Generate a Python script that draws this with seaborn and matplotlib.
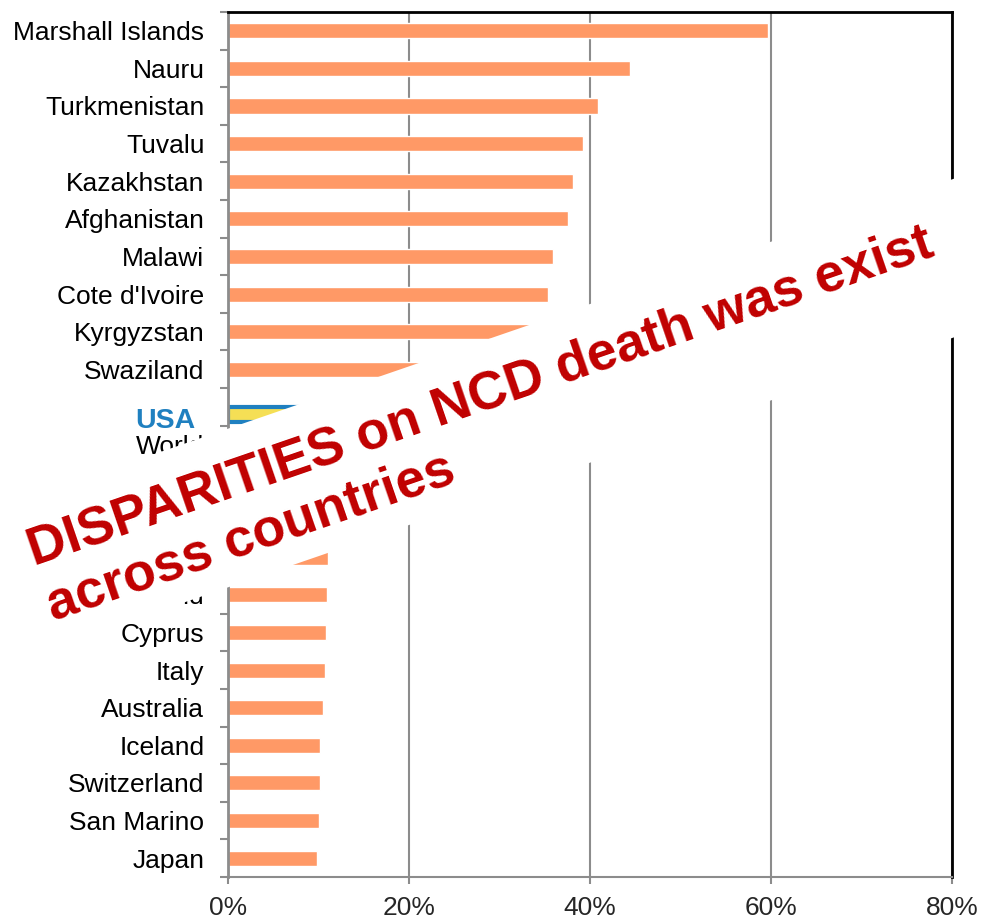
import matplotlib
matplotlib.use("Agg")
import matplotlib.pyplot as plt
import matplotlib.colors as mcolors
import matplotlib.transforms as mtransforms
from matplotlib.patches import Rectangle
import numpy as np
import pandas as pd
import seaborn as sns

# Probability of dying from the main NCDs (%), by country
countries = ["Marshall Islands", "Nauru", "Turkmenistan", "Tuvalu", "Kazakhstan",
             "Afghanistan", "Malawi", "Cote d'Ivoire", "Kyrgyzstan", "Swaziland",
             "USA", "World", "Israel", "Sweden", "Norway", "Finland",
             "Cyprus", "Italy", "Australia", "Iceland", "Switzerland",
             "San Marino", "Japan"]
risk = [59.7, 44.4, 40.9, 39.2, 38.1, 37.6, 35.9, 35.4, 34.5, 32.0,
        14.3, 18.0, 11.2, 11.1, 11.0, 10.9, 10.8, 10.7, 10.5, 10.2,
        10.2, 10.1, 9.8]
highlight = "USA"
xticks = [0, 20, 40, 60, 80]
xtick_labels = ["0%", "20%", "40%", "60%", "80%"]
headline = "DISPARITIES on NCD death was exist\nacross countries"

bar_color = "#FF9966"
usa_fill = "#F5DF55"
usa_edge = "#1F80C0"
grid_gray = "#8C8C8C"
headline_red = "#C00000"
slant = 19  # degrees

sns.set_style("white")
plt.rcParams["font.family"] = ["Liberation Sans", "DejaVu Sans"]

df = pd.DataFrame({"country": countries, "risk": risk})
df["group"] = np.where(df["country"] == highlight, "highlight", "other")

fig = plt.figure(figsize=(9.82, 9.21), dpi=100)
ax = fig.add_axes([0.2322, 0.0478, 0.9695 - 0.2322, 0.987 - 0.0478])

sns.barplot(data=df, y="country", x="risk", hue="group", order=countries,
            palette={"other": bar_color, "highlight": usa_fill},
            dodge=False, legend=False, width=0.4, saturation=1,
            orient="h", ax=ax)

# the highlighted bar sits a little low in its row, with a blue outline
bar_nudge = mtransforms.ScaledTranslation(0, -0.075, fig.dpi_scale_trans)
for p in ax.patches:
    if mcolors.same_color(p.get_facecolor(), usa_fill):
        p.set_edgecolor(usa_edge)
        p.set_linewidth(3)
        p.set_transform(ax.transData + bar_nudge)

n = len(countries)
ax.set_ylim(n - 0.5, -0.5)
ax.set_xlim(xticks[0], xticks[-1])
ax.set_xlabel("")
ax.set_ylabel("")

# category labels, with boundary tick marks between categories
ax.set_yticks(range(n))
ax.set_yticklabels(countries, fontsize=19, color="black")
ax.tick_params(axis="y", which="major", length=0, pad=17)
ax.set_yticks(np.arange(-0.5, n), minor=True)
ax.tick_params(axis="y", which="minor", length=6, width=1.5, color=grid_gray,
               left=True)
label_nudge = mtransforms.ScaledTranslation(-0.09, -0.11, fig.dpi_scale_trans)
for lbl in ax.get_yticklabels():
    if lbl.get_text() == highlight:
        lbl.set_color(usa_edge)
        lbl.set_fontweight("bold")
        lbl.set_fontsize(20.5)
        lbl.set_transform(lbl.get_transform() + label_nudge)

ax.set_xticks(xticks)
ax.set_xticklabels(xtick_labels, fontsize=19)
ax.tick_params(axis="x", which="major", length=5, width=1.5, color=grid_gray,
               pad=9, bottom=True)

ax.xaxis.grid(True, color=grid_gray, linewidth=1.5)
ax.yaxis.grid(False)
ax.set_axisbelow(True)

ax.spines["left"].set_color(grid_gray)
ax.spines["left"].set_linewidth(2)
ax.spines["bottom"].set_color(grid_gray)
ax.spines["bottom"].set_linewidth(1.5)
ax.spines["top"].set_color("black")
ax.spines["top"].set_linewidth(2)
ax.spines["right"].set_color("black")
ax.spines["right"].set_linewidth(2)

# slanted white band (in inches from the lower-left corner) carrying the headline
band = Rectangle((-0.6, 2.345), 12.0, 1.50, angle=slant,
                 transform=fig.dpi_scale_trans, facecolor="white",
                 edgecolor="none", zorder=9)
fig.add_artist(band)

fig.text(0.051, 0.3344, headline, rotation=slant, rotation_mode="anchor",
         ha="left", va="baseline", fontsize=38.5, fontweight="bold",
         color=headline_red, linespacing=1.2, zorder=10)

fig.savefig("out.png", dpi=100)
